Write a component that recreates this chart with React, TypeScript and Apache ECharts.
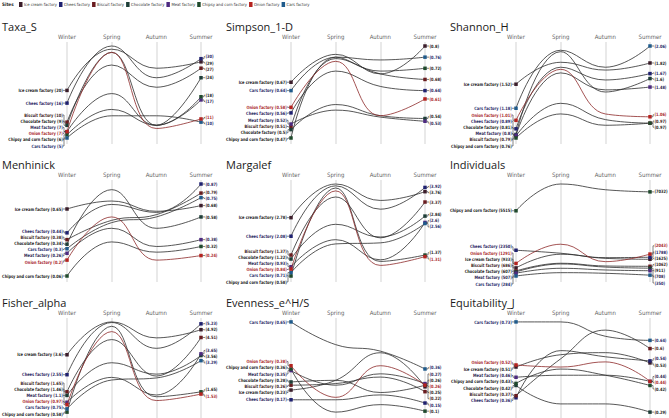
import React, { useEffect, useRef } from "react";
import * as echarts from "echarts";

const seasons = ["Winter", "Spring", "Autumn", "Summer"];
const sites = [
  "Ice cream factory",
  "Chees factory",
  "Biscuit factory",
  "Chocolate factory",
  "Meat factory",
  "Chipsy and corn factory",
  "Onion factory",
  "Cars factory",
];
const siteColors = ["#3b1d2a", "#1f2170", "#6a1c1f", "#1d3e37", "#4d2a80", "#1f4a2c", "#b5231f", "#1f5b8c"];
const labelColors = ["#222222", "#1f2160", "#3a1a1a", "#222222", "#2a2350", "#222222", "#a8262a", "#1f2a6a"];

// rows follow `sites`; columns follow `seasons`
const taxaS = [
  [20, 33, 27, 29],
  [16, 34, 24, 30],
  [10, 28, 21, 27],
  [9, 32, 9, 24],
  [7, 19, 9, 17],
  [6, 14, 9, 18],
  [7, 32, 8, 11],
  [5, 12, 12, 10],
];
const simpson = [
  [0.67, 0.77, 0.7, 0.8],
  [0.56, 0.71, 0.655, 0.64],
  [0.51, 0.755, 0.7, 0.68],
  [0.5, 0.59, 0.55, 0.54],
  [0.52, 0.57, 0.545, 0.53],
  [0.47, 0.76, 0.71, 0.72],
  [0.58, 0.745, 0.55, 0.61],
  [0.64, 0.76, 0.75, 0.76],
];
const shannon = [
  [1.52, 1.83, 1.72, 1.82],
  [0.89, 1.76, 1.58, 1.67],
  [0.79, 1.25, 1.02, 0.97],
  [0.81, 1.98, 1.41, 1.6],
  [0.8, 1.68, 1.44, 1.48],
  [0.76, 1.1, 0.94, 0.97],
  [1.01, 1.73, 1.1, 1.06],
  [1.18, 2.0, 1.76, 2.06],
];
const menhinick = [
  [0.65, 0.72, 0.63, 0.68],
  [0.44, 0.69, 0.62, 0.87],
  [0.38, 0.55, 0.6, 0.79],
  [0.34, 0.82, 0.48, 0.58],
  [0.26, 0.48, 0.32, 0.38],
  [0.06, 0.36, 0.27, 0.32],
  [0.2, 0.58, 0.2, 0.24],
  [0.3, 0.53, 0.58, 0.75],
];
const margalef = [
  [2.78, 4.05, 3.43, 3.76],
  [2.08, 3.98, 3.1, 3.92],
  [1.37, 3.56, 2.02, 3.37],
  [1.22, 2.53, 2.05, 2.84],
  [0.93, 1.95, 1.19, 2.6],
  [0.58, 3.9, 1.13, 1.37],
  [0.84, 3.79, 0.98, 1.31],
  [0.71, 1.79, 1.83, 2.56],
];
const individuals = [
  [933, 2030, 1700, 1625],
  [2350, 2110, 1756, 1788],
  [686, 1306, 1088, 1062],
  [607, 1250, 1000, 911],
  [507, 903, 767, 708],
  [5515, 7663, 7204, 7032],
  [1291, 2834, 1435, 2043],
  [284, 550, 500, 350],
];
const fisherAlpha = [
  [3.6, 5.33, 4.49, 4.92],
  [2.55, 5.3, 3.94, 5.23],
  [1.65, 4.4, 2.48, 4.51],
  [1.46, 3.18, 2.58, 3.56],
  [1.1, 2.41, 1.48, 3.65],
  [0.58, 5.1, 1.39, 1.65],
  [0.97, 4.82, 1.19, 1.53],
  [0.75, 2.27, 2.38, 3.29],
];
const evenness = [
  [0.23, 0.29, 0.46, 0.25],
  [0.17, 0.17, 0.2, 0.15],
  [0.26, 0.27, 0.31, 0.22],
  [0.28, 0.29, 0.215, 0.26],
  [0.35, 0.26, 0.33, 0.27],
  [0.36, 0.094, 0.14, 0.1],
  [0.38, 0.185, 0.38, 0.26],
  [0.65, 0.51, 0.47, 0.36],
];
const equitability = [
  [0.51, 0.57, 0.58, 0.53],
  [0.36, 0.59, 0.56, 0.54],
  [0.37, 0.55, 0.69, 0.6],
  [0.42, 0.33, 0.33, 0.29],
  [0.46, 0.47, 0.47, 0.44],
  [0.43, 0.5, 0.47, 0.42],
  [0.52, 0.51, 0.535, 0.44],
  [0.73, 0.73, 0.66, 0.64],
];

const metricNames = [
  "Taxa_S",
  "Simpson_1-D",
  "Shannon_H",
  "Menhinick",
  "Margalef",
  "Individuals",
  "Fisher_alpha",
  "Evenness_e^H/S",
  "Equitability_J",
];
const metricData = [taxaS, simpson, shannon, menhinick, margalef, individuals, fisherAlpha, evenness, equitability];

const FONT = "'Open Sans', 'Noto Sans', sans-serif";
const NARROW = "'Liberation Sans Narrow', 'DejaVu Sans Condensed', 'Roboto', sans-serif";

function spread(ys: number[], gap: number, minY: number, maxY: number): number[] {
  const order = ys.map((_, i) => i).sort((a, b) => ys[a] - ys[b]);
  type C = { items: number[]; start: number };
  const place = (items: number[]): number => {
    const mean = items.reduce((s, i) => s + ys[i], 0) / items.length;
    let start = mean - ((items.length - 1) * gap) / 2;
    const span = (items.length - 1) * gap;
    if (start + span > maxY) start = maxY - span;
    if (start < minY) start = minY;
    return start;
  };
  const cl: C[] = order.map((i) => ({ items: [i], start: place([i]) }));
  let changed = true;
  while (changed) {
    changed = false;
    for (let j = 0; j < cl.length - 1; j++) {
      const a = cl[j];
      const b = cl[j + 1];
      if (a.start + a.items.length * gap > b.start + 0.01) {
        const items = a.items.concat(b.items);
        cl.splice(j, 2, { items, start: place(items) });
        changed = true;
        break;
      }
    }
  }
  const out: number[] = new Array(ys.length);
  cl.forEach((c) => c.items.forEach((i, k) => (out[i] = c.start + k * gap)));
  return out;
}

export default function App() {
  const ref = useRef<HTMLDivElement>(null);
  useEffect(() => {
    document.body.style.margin = "0";
    const chart = echarts.init(ref.current!, null, { renderer: "svg" });
    const colLeft = [67, 291, 516];
    const rowTop = [46, 184, 322];
    const plotW = 134;
    const plotH = 92;
    const padTop = 4;
    const padBot = 6;
    const grids: any[] = [];
    const xAxes: any[] = [];
    const yAxes: any[] = [];
    const series: any[] = [];
    const titles: any[] = [];

    metricData.forEach((data, k) => {
      const c = k % 3;
      const r = Math.floor(k / 3);
      const all = data.flat();
      const lo = Math.min(...all);
      const hi = Math.max(...all);
      const upp = (hi - lo) / plotH;
      grids.push({ left: colLeft[c], top: rowTop[r] - padTop, width: plotW, height: plotH + padTop + padBot });
      xAxes.push({
        gridIndex: k,
        type: "category",
        data: seasons,
        boundaryGap: false,
        position: "top",
        axisLine: { show: false },
        axisTick: { show: false },
        axisLabel: { fontSize: 6, color: "#666", margin: 3, interval: 0, fontFamily: NARROW },
        splitLine: { show: true, interval: 0, lineStyle: { color: "#e2e2e2", width: 1.5 } },
      });
      yAxes.push({ gridIndex: k, type: "value", min: lo - padBot * upp, max: hi + padTop * upp, show: false });
      titles.push({
        text: metricNames[k],
        left: [2, 226, 450][c],
        top: rowTop[r] - 25,
        textStyle: { fontSize: 11, fontWeight: 500, color: "#1a1a1a", fontFamily: FONT },
        padding: 0,
      });
      data.forEach((row, i) => {
        series.push({
          type: "line",
          name: sites[i],
          xAxisIndex: k,
          yAxisIndex: k,
          data: row,
          smooth: 0.45,
          symbol: (_v: any, p: any) => (p.dataIndex === 0 || p.dataIndex === 3 ? "rect" : "none"),
          symbolSize: 3.5,
          showSymbol: true,
          lineStyle: { color: i === 6 ? "#8e2b2b" : "#2f2f2f", width: 0.9, opacity: 0.9 },
          itemStyle: { color: siteColors[i] },
          z: i === 6 ? 4 : 3,
          silent: true,
          emphasis: { disabled: true },
        });
      });
      series.push({
        type: "custom",
        xAxisIndex: k,
        yAxisIndex: k,
        silent: true,
        z: 6,
        data: data.map((row) => [0, row[0]]),
        renderItem: (params: any, api: any) => {
          const i = params.dataIndex;
          const W = data.map((row) => api.coord([0, row[0]]));
          const S = data.map((row) => api.coord([3, row[3]]));
          const yTop = api.coord([0, hi])[1];
          const yBot = api.coord([0, lo])[1];
          const gap = 6.2;
          const maxY = Math.min(yBot + 8, 414);
          const Ly = spread(W.map((p: number[]) => p[1]), gap, yTop - 8, maxY);
          const Ry = spread(S.map((p: number[]) => p[1]), gap, yTop - 8, maxY);
          const [wx, wy] = W[i];
          const [sx, sy] = S[i];
          const lineStyle = { stroke: "#333", lineWidth: 0.6, fill: null };
          const textBase = {
            verticalAlign: "middle",
            fontSize: 4.5,
            fontWeight: 700,
            fontFamily: NARROW,
            fill: labelColors[i],
          };
          return {
            type: "group",
            children: [
              {
                type: "polyline",
                shape: { points: [[wx - 4, Ly[i]], [wx - 3, Ly[i]], [wx - 3, wy], [wx - 1.5, wy]] },
                style: lineStyle,
              },
              {
                type: "polyline",
                shape: { points: [[sx + 4, Ry[i]], [sx + 3, Ry[i]], [sx + 3, sy], [sx + 1.5, sy]] },
                style: lineStyle,
              },
              {
                type: "text",
                x: wx - 4.2,
                y: Ly[i],
                scaleX: 0.88,
                style: { ...textBase, text: `${sites[i]} (${data[i][0]})`, x: 0, y: 0, align: "right" },
              },
              {
                type: "text",
                x: sx + 4.5,
                y: Ry[i],
                scaleX: 0.88,
                style: { ...textBase, text: `(${data[i][3]})`, x: 0, y: 0, align: "left" },
              },
            ],
          };
        },
      });
    });

    chart.setOption({
      animation: false,
      backgroundColor: "#ffffff",
      title: titles,
      legend: {
        data: sites,
        left: 19,
        top: 2,
        padding: 0,
        icon: "rect",
        itemWidth: 3.5,
        itemHeight: 5,
        itemGap: 2,
        selectedMode: false,
        textStyle: { fontSize: 4.2, color: "#333", fontFamily: NARROW, padding: [0, 0, 0, -3.5] },
      },
      graphic: [
        {
          type: "text",
          left: 2,
          top: 2,
          style: { text: "Sites", fontSize: 4.6, fontWeight: 700, fill: "#222", fontFamily: NARROW },
        },
      ],
      grid: grids,
      xAxis: xAxes,
      yAxis: yAxes,
      series,
    });
    return () => chart.dispose();
  }, []);
  return <div ref={ref} style={{ width: 669, height: 418 }} />;
}
